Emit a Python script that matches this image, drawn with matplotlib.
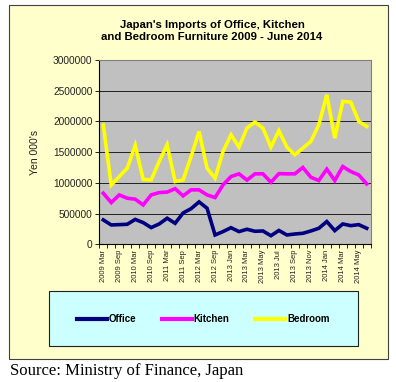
import numpy as np
import matplotlib
matplotlib.use('Agg')
import matplotlib.pyplot as plt
from matplotlib.patches import Rectangle

plt.rcParams['font.family'] = ['Liberation Sans', 'DejaVu Sans']

# categories: quarterly to end of 2012, then monthly
periods = (['2009 Mar', '2009 Jun', '2009 Sep', '2009 Dec',
            '2010 Mar', '2010 Jun', '2010 Sep', '2010 Dec',
            '2011 Mar', '2011 Jun', '2011 Sep', '2011 Dec',
            '2012 Mar', '2012 Jun', '2012 Sep', '2012 Dec']
           + ['2013 ' + m for m in ['Jan', 'Feb', 'Mar', 'Apr', 'May', 'Jun',
                                    'Jul', 'Aug', 'Sep', 'Oct', 'Nov', 'Dec']]
           + ['2014 ' + m for m in ['Jan', 'Feb', 'Mar', 'Apr', 'May', 'Jun']])

office = [397000, 315000, 320000, 326000, 405000, 353000, 272000, 331000,
          424000, 342000, 510000, 580000, 690000, 587000, 152000, 207000,
          270000, 207000, 245000, 212000, 217000, 140000, 225000, 152000,
          168000, 179000, 217000, 261000, 370000, 223000, 331000, 304000,
          320000, 261000]
kitchen = [831000, 679000, 804000, 750000, 734000, 641000, 804000, 842000,
           850000, 905000, 788000, 886000, 886000, 804000, 761000, 967000,
           1103000, 1147000, 1045000, 1147000, 1147000, 1010000, 1150000, 1147000,
           1147000, 1250000, 1092000, 1038000, 1223000, 1038000, 1266000, 1185000,
           1130000, 984000]
bedroom = [1940000, 965000, 1103000, 1239000, 1610000, 1055000, 1049000, 1348000,
           1620000, 1022000, 1049000, 1429000, 1837000, 1239000, 1076000, 1511000,
           1783000, 1582000, 1891000, 1990000, 1891000, 1582000, 1850000, 1582000,
           1457000, 1565000, 1674000, 1946000, 2435000, 1728000, 2326000, 2315000,
           2000000, 1919000]

series = [('Office', office, '#000080'),
          ('Kitchen', kitchen, '#FF00FF'),
          ('Bedroom', bedroom, '#FFFF00')]

fig = plt.figure(figsize=(3.96, 3.82), dpi=100)
fig.patch.set_facecolor('white')

# chart area frame
frame = Rectangle((9/396, 1-359/382), 379/396, 354/382, transform=fig.transFigure,
                  facecolor='#FFFFCC', edgecolor='#404040', linewidth=0.8, zorder=0)
fig.patches.append(frame)

# legend box
lbox = Rectangle((49/396, 1-346/382), 309/396, 55/382, transform=fig.transFigure,
                 facecolor='#CCFFFF', edgecolor='#202020', linewidth=0.8, zorder=1)
fig.patches.append(lbox)

ax = fig.add_axes([99.3/396, 1-244.3/382, 271.4/396, 184.3/382])
ax.set_zorder(2)
ax.set_facecolor('#C0C0C0')

x = np.arange(len(periods))
for name, vals, col in series:
    ax.plot(x, vals, color=col, lw=2.6, label=name, solid_joinstyle='miter', zorder=3)

ax.set_xlim(-0.5, len(periods) - 0.5)
ax.set_ylim(0, 3000000)
ax.set_yticks(np.arange(0, 3000001, 500000))
ax.set_yticklabels([str(v) for v in range(0, 3000001, 500000)], fontsize=7.3, color='#222222')
ax.yaxis.grid(True, color='#202020', lw=0.7)
ax.set_axisbelow(True)

ax.set_xticks(x[::2])
ax.set_xticklabels(periods[::2], rotation=90, fontsize=5.5, color='#222222')
ax.set_xticks(np.arange(-0.5, len(periods), 1), minor=True)
ax.tick_params(axis='x', which='major', length=0, pad=4)
ax.tick_params(axis='x', which='minor', length=3, width=0.6, direction='out')
ax.tick_params(axis='y', length=3, width=0.6, pad=2)

for s in ['top', 'right']:
    ax.spines[s].set_color('#808080')
    ax.spines[s].set_linewidth(0.8)
for s in ['left', 'bottom']:
    ax.spines[s].set_color('black')
    ax.spines[s].set_linewidth(0.8)

ax.set_ylabel("Yen 000's", fontsize=7.5, color='#222222', labelpad=9)

fig.text(212/396, 1-31/382, "Japan's Imports of Office, Kitchen\nand Bedroom Furniture 2009 - June 2014",
         ha='center', va='center', fontsize=8.2, fontweight='bold', linespacing=1.25)

handles, labels = ax.get_legend_handles_labels()
leg = fig.legend(handles, labels, loc='center', bbox_to_anchor=(203/396, 1-319/382),
                 ncol=3, frameon=False, fontsize=7, handlelength=3.1, handletextpad=0.2,
                 columnspacing=2.6)
leg.set_zorder(3)
for t in leg.get_texts():
    t.set_fontweight('bold')
for h in leg.get_lines():
    h.set_linewidth(3)

fig.text(10/396, 1-371/382, 'Source: Ministry of Finance, Japan', ha='left', va='center',
         fontsize=12, family=['Liberation Serif', 'DejaVu Serif'])

fig.savefig('out.png', dpi=100)
